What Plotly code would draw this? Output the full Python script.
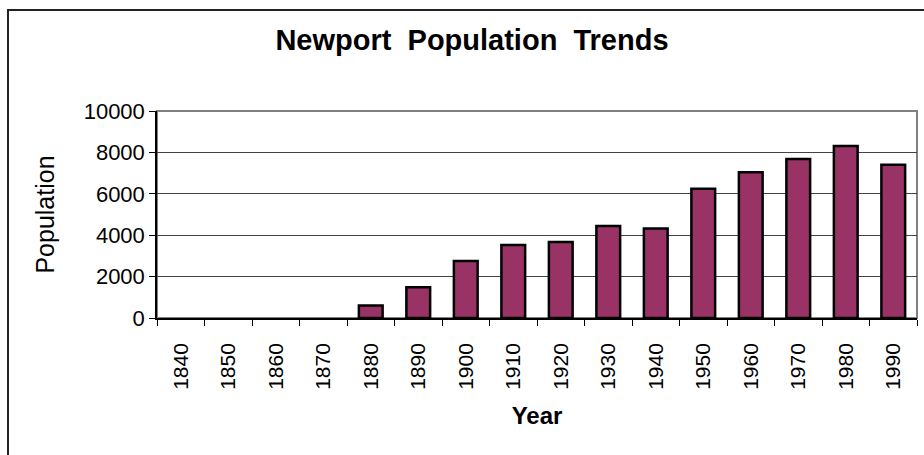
import plotly.graph_objects as go

years = ["1840", "1850", "1860", "1870", "1880", "1890", "1900", "1910",
         "1920", "1930", "1940", "1950", "1960", "1970", "1980", "1990"]
population = [0, 0, 0, 0, 600, 1480, 2750, 3530, 3670, 4440, 4320, 6250,
              7040, 7680, 8310, 7400]
y_ticks = [0, 2000, 4000, 6000, 8000, 10000]
y_tick_text = ["0", "2000", "4000", "6000", "8000", "10000"]

W, H = 924, 455
L, R, T, B = 157, 7, 111, 137
pw, ph = W - L - R, H - T - B

def px_x(x):
    return (x - L) / pw

def px_y(y):
    return (H - B - y) / ph

fig = go.Figure(go.Bar(
    x=years, y=population,
    marker=dict(color="#993366",
                line=dict(color="black", width=[0 if v == 0 else 2.5 for v in population])),
    width=0.5,
))

font = "Liberation Sans, Arial, sans-serif"

fig.update_layout(
    width=W, height=H,
    margin=dict(l=L, r=R, t=T, b=B),
    paper_bgcolor="white", plot_bgcolor="white",
    showlegend=False,
    font=dict(family=font, color="black", size=22),
    title=dict(text="<b>Newport  Population  Trends</b>", x=472 / W, xanchor="center",
               y=1 - 40 / H, yanchor="middle",
               font=dict(family=font, size=29, color="black")),
    xaxis=dict(
        type="category", tickangle=-90, ticks="outside", ticklen=6, tickcolor="black",
        tickson="boundaries", showline=True, linecolor="black", linewidth=1.5,
        showgrid=False, tickfont=dict(size=21), ticklabelstandoff=15,
        title=dict(text="<b>Year</b>", font=dict(size=24), standoff=18),
        range=[-0.5, 15.5],
    ),
    yaxis=dict(
        range=[0, 10000], tickvals=y_ticks, ticktext=y_tick_text,
        ticks="outside", ticklen=6, tickcolor="black",
        showline=True, linecolor="black", linewidth=1.5,
        showgrid=True, gridcolor="#444444", gridwidth=1, zeroline=False,
        tickfont=dict(size=22),
        title=dict(text="Population", font=dict(size=25), standoff=22),
    ),
    shapes=[
        dict(type="rect", xref="paper", yref="paper", x0=0, x1=1, y0=0, y1=1,
             line=dict(color="#808080", width=2), layer="below"),
        dict(type="rect", xref="paper", yref="paper",
             x0=px_x(8), x1=px_x(940), y0=px_y(470), y1=px_y(10),
             line=dict(color="#222222", width=2), layer="below"),
    ],
)

fig.write_html("out.html")
